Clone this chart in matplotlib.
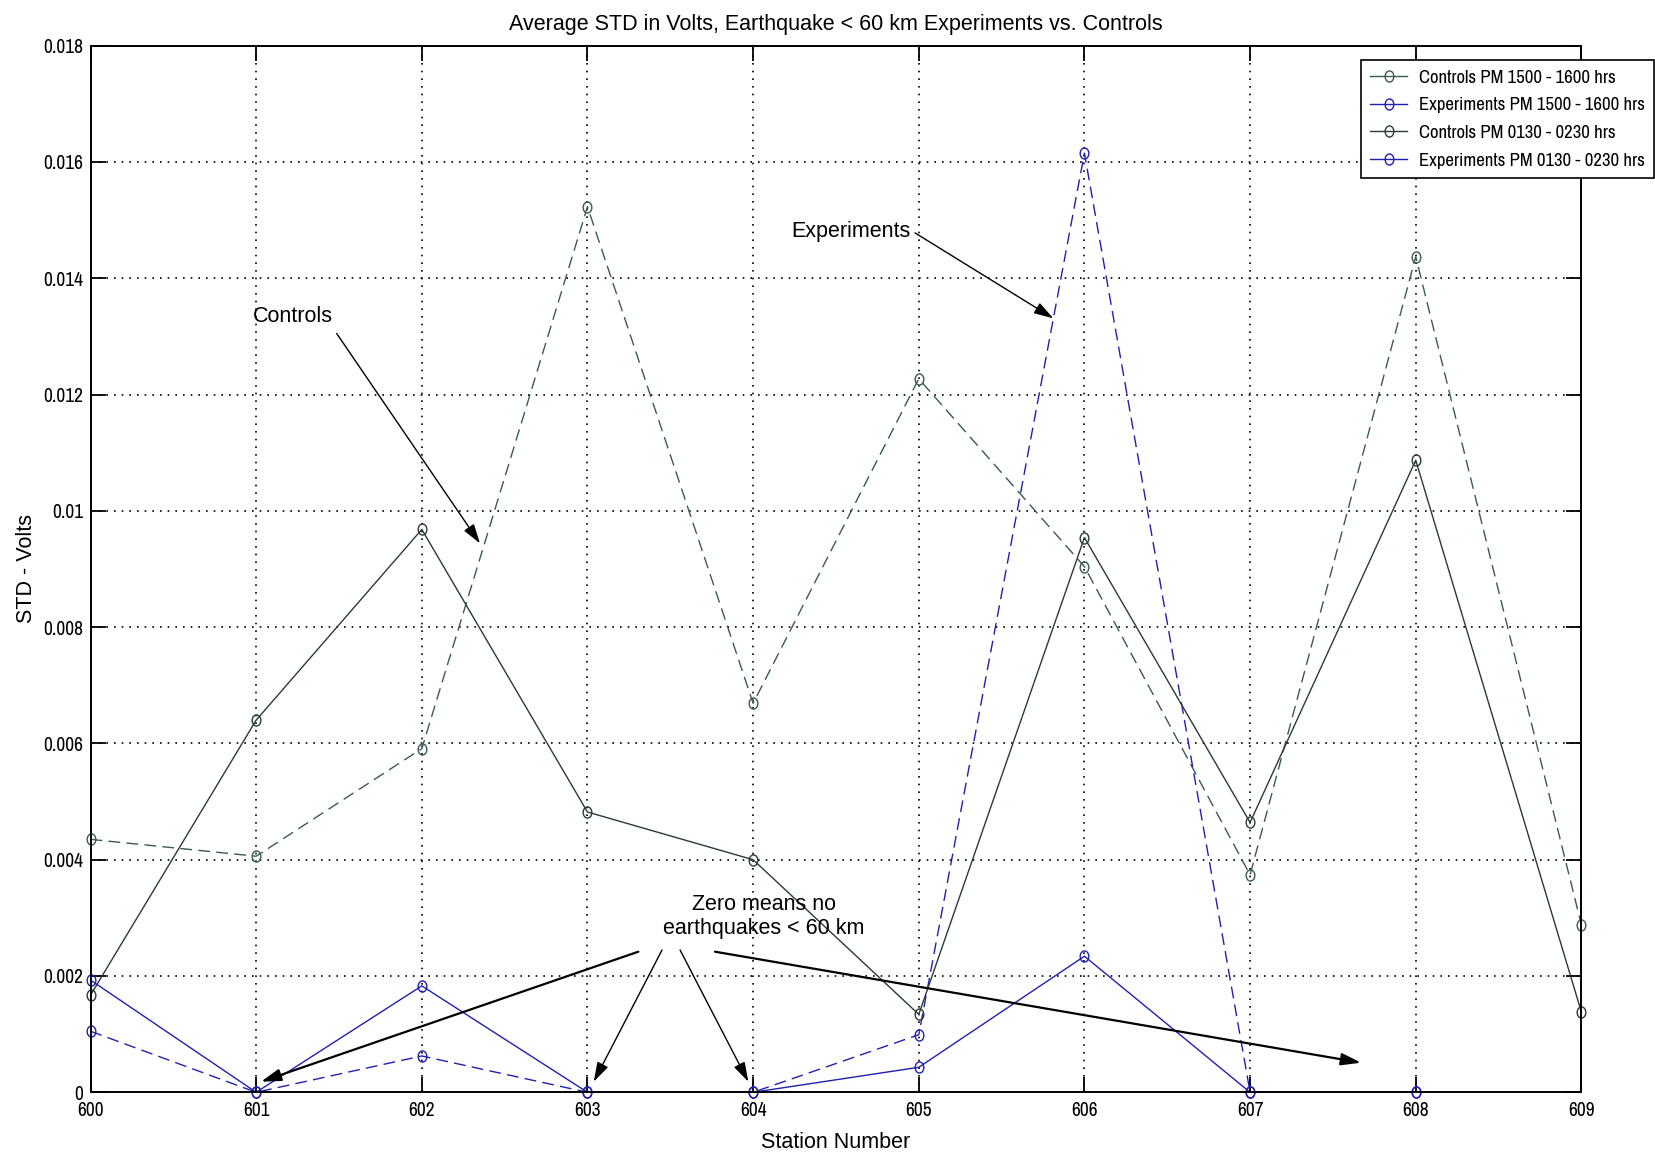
import numpy as np
import matplotlib
matplotlib.use("Agg")
import matplotlib.pyplot as plt
from matplotlib import font_manager
from matplotlib.font_manager import FontProperties
from matplotlib.ticker import FixedLocator, FixedFormatter
from matplotlib.path import Path

# ---------------- data ----------------
stations = [600, 601, 602, 603, 604, 605, 606, 607, 608, 609]
exp_stations = [600, 601, 602, 603, 604, 605, 606, 607, 608]

controls_pm1500 = [0.00435, 0.00406, 0.00591, 0.01523, 0.00669, 0.01227, 0.00904, 0.00374, 0.01437, 0.00288]
experiments_pm1500 = [0.00105, 0.0, 0.000625, 0.0, 0.0, 0.00099, 0.01615, 0.0, 0.0]
controls_pm0130 = [0.00167, 0.00640, 0.00968, 0.00482, 0.00400, 0.00134, 0.00954, 0.00464, 0.01087, 0.00138]
experiments_pm0130 = [0.00193, 0.0, 0.00183, 0.0, 0.0, 0.00043, 0.00234, 0.0, 0.0]

series_labels = ["Controls PM 1500 - 1600 hrs", "Experiments PM 1500 - 1600 hrs",
                 "Controls PM 0130 - 0230 hrs", "Experiments PM 0130 - 0230 hrs"]

yticks = [0, 0.002, 0.004, 0.006, 0.008, 0.010, 0.012, 0.014, 0.016, 0.018]
ytick_labels = ["0", "0.002", "0.004", "0.006", "0.008", "0.01", "0.012", "0.014", "0.016", "0.018"]
xtick_labels = [str(s) for s in stations]

title = "Average STD in Volts, Earthquake < 60 km Experiments vs. Controls"
xlabel = "Station Number"
ylabel = "STD - Volts"

# ---------------- fonts ----------------
regular = "Liberation Sans"
plt.rcParams["font.family"] = [regular, "DejaVu Sans"]


def find_narrow():
    cands = []
    for f in font_manager.fontManager.ttflist:
        nm = f.name
        st = str(f.stretch)
        fn = f.fname.lower()
        is_narrow = ("narrow" in nm.lower() or "condensed" in nm.lower() or
                     st in ("condensed", "semi-condensed", "extra-condensed") or
                     "condensed" in fn or "narrow" in fn)
        if not is_narrow:
            continue
        if f.style != "normal" or f.weight not in (400, "normal", "regular", "book"):
            continue
        if "mono" in fn or "serif" in fn and "sans" not in fn:
            continue
        pri = 5
        if "liberationsansnarrow" in fn.replace("-", "").replace("_", ""):
            pri = 0
        elif "arialn" in fn or "narrow" in fn:
            pri = 1
        elif "dejavusanscondensed" in fn.replace("-", "").replace("_", ""):
            pri = 2
        elif "roboto" in fn:
            pri = 3
        cands.append((pri, f.fname))
    if cands:
        cands.sort()
        return cands[0][1]
    return None


narrow_path = find_narrow()
if narrow_path:
    def narrow_fp(size):
        return FontProperties(fname=narrow_path, size=size)
    narrow_scale = 1.0
else:
    def narrow_fp(size):
        return FontProperties(family=regular, size=size)
    narrow_scale = 0.84

# ---------------- colors ----------------
c_ctrl_dash = "#3a5a53"
c_ctrl_solid = "#2a3b37"
c_blue = "#2020b0"

# slightly tall open circle marker (as in the reference)
circ = Path.unit_circle()
oval = Path(circ.vertices * np.array([0.78, 1.0]), circ.codes)

fig = plt.figure(figsize=(16.56, 11.55), dpi=100)
ax = fig.add_axes([0.05465, 0.05429, 0.9003, 0.9062])

dash = (0, (8.5, 4.5))
lw = 1.0
ms = 8

l1, = ax.plot(stations, controls_pm1500, linestyle=dash, color=c_ctrl_dash, lw=lw,
              marker=oval, ms=ms, mfc="none", mew=1.0, label=series_labels[0])
l2, = ax.plot(exp_stations, experiments_pm1500, linestyle=dash, color=c_blue, lw=lw,
              marker=oval, ms=ms, mfc="none", mew=1.0, label=series_labels[1])
l3, = ax.plot(stations, controls_pm0130, linestyle="-", color=c_ctrl_solid, lw=lw,
              marker=oval, ms=ms, mfc="none", mew=1.0, label=series_labels[2])
l4, = ax.plot(exp_stations, experiments_pm0130, linestyle="-", color=c_blue, lw=lw,
              marker=oval, ms=ms, mfc="none", mew=1.0, label=series_labels[3])
for l in (l1, l2, l3, l4):
    l.set_clip_on(False)

ax.set_xlim(600, 609)
ax.set_ylim(0, 0.018)
ax.xaxis.set_major_locator(FixedLocator(stations))
ax.xaxis.set_major_formatter(FixedFormatter(xtick_labels))
ax.yaxis.set_major_locator(FixedLocator(yticks))
ax.yaxis.set_major_formatter(FixedFormatter(ytick_labels))

ax.grid(True, color="black", linestyle=(0, (1, 3.6)), lw=1.2)
ax.tick_params(direction="in", length=11, width=1.3, top=True, right=True)
ax.tick_params(axis="x", pad=6.5)
ax.tick_params(axis="y", pad=5)
tick_fp = narrow_fp(14 * narrow_scale)
for lab in ax.get_xticklabels() + ax.get_yticklabels():
    lab.set_fontproperties(tick_fp)
for sp in ax.spines.values():
    sp.set_linewidth(1.4)

ax.set_title(title, fontsize=15.5, pad=11)
ax.set_xlabel(xlabel, fontsize=15.5)
ax.set_ylabel(ylabel, fontsize=15.5)
ax.xaxis.set_label_coords(0.5, -0.038)
ax.yaxis.set_label_coords(-0.036, 0.5)

# ---------------- legend ----------------
leg = ax.legend(loc="upper right", bbox_to_anchor=(0.9988, 0.948),
                bbox_transform=fig.transFigure, borderaxespad=0,
                prop=narrow_fp(13.5 * narrow_scale),
                fancybox=False, framealpha=1, edgecolor="black",
                handlelength=2.0, handletextpad=0.6, labelspacing=0.62,
                borderpad=0.5)
leg.get_frame().set_linewidth(1.2)
for h in leg.get_lines():
    h.set_linestyle("-")

# ---------------- annotations ----------------
arrow = dict(arrowstyle="-|>,head_length=0.85,head_width=0.26", color="black",
             lw=1.6, shrinkA=0, shrinkB=0, mutation_scale=14)
arrow_thin = dict(arrow, lw=1.0)

ax.text(601.22, 0.01334, "Controls", fontsize=15.5, ha="center", va="center")
ax.annotate("", xy=(602.351, 0.00944), xytext=(601.486, 0.01305), arrowprops=arrow_thin)

ax.text(604.591, 0.0148, "Experiments", fontsize=15.5, ha="center", va="center")
ax.annotate("", xy=(605.812, 0.01331), xytext=(604.977, 0.01478), arrowprops=arrow_thin)

ax.text(604.066, 0.00302, "Zero means no\nearthquakes < 60 km", fontsize=15.5,
        ha="center", va="center", linespacing=1.15)
ax.annotate("", xy=(601.029, 0.000182), xytext=(603.307, 0.002418), arrowprops=arrow)
ax.annotate("", xy=(603.038, 0.000182), xytext=(603.45, 0.002447), arrowprops=arrow_thin)
ax.annotate("", xy=(603.971, 0.000182), xytext=(603.559, 0.002447), arrowprops=arrow_thin)
ax.annotate("", xy=(607.67, 0.000509), xytext=(603.77, 0.002418), arrowprops=arrow)

fig.savefig("out.png", dpi=100)
